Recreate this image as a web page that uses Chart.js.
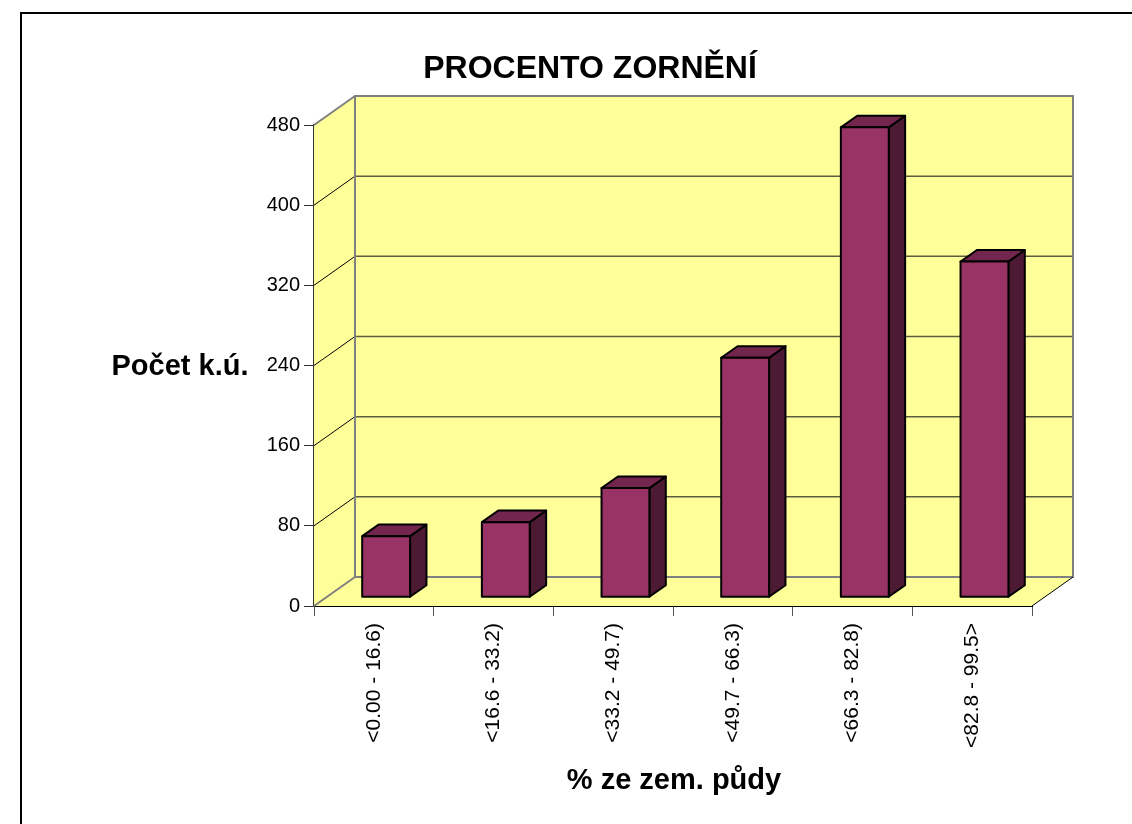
<!DOCTYPE html>
<html>
<head>
<meta charset="utf-8">
<script src="https://cdn.jsdelivr.net/npm/chart.js@4"></script>
<style>
  html, body { margin: 0; padding: 0; background: #fff; }
  canvas { display: block; }
</style>
</head>
<body>
<canvas id="grafica" width="1132" height="824"></canvas>
<script>
const labels = ['<0.00 - 16.6)', '<16.6 - 33.2)', '<33.2 - 49.7)', '<49.7 - 66.3)', '<66.3 - 82.8)', '<82.8 - 99.5>'];
const counts = [61, 75, 109, 239, 469, 335];
const yMax = 480;
const yStep = 80;

const title = 'PROCENTO ZORNĚNÍ';
const yTitle = 'Počet k.ú.';
const xTitle = '% ze zem. půdy';

// depth of the 3D box, and where the bars sit inside it
const DX = 41, DY = -29;
const F1 = 0.3, F2 = 0.7;
const FONT = '"Liberation Sans", Arial, sans-serif';

const box3d = {
	id: 'box3d',
	beforeDatasetsDraw(chart) {
		const ctx = chart.ctx;
		const a = chart.chartArea;
		const ys = chart.scales.y;
		const y0 = ys.getPixelForValue(0);
		const yT = ys.getPixelForValue(yMax);
		ctx.save();
		ctx.fillStyle = '#FFFF99';
		// back wall
		ctx.fillRect(a.left + DX, yT + DY, a.right - a.left, y0 - yT);
		// left wall
		ctx.beginPath();
		ctx.moveTo(a.left, yT); ctx.lineTo(a.left + DX, yT + DY);
		ctx.lineTo(a.left + DX, y0 + DY); ctx.lineTo(a.left, y0);
		ctx.closePath(); ctx.fill();
		// floor
		ctx.beginPath();
		ctx.moveTo(a.left, y0); ctx.lineTo(a.right, y0);
		ctx.lineTo(a.right + DX, y0 + DY); ctx.lineTo(a.left + DX, y0 + DY);
		ctx.closePath(); ctx.fill();

		// grid lines
		for (let v = yStep; v < yMax; v += yStep) {
			const py = ys.getPixelForValue(v);
			ctx.strokeStyle = '#5c5c40';
			ctx.lineWidth = 1.5;
			ctx.beginPath();
			ctx.moveTo(a.left + DX, py + DY); ctx.lineTo(a.right + DX, py + DY);
			ctx.stroke();
			ctx.strokeStyle = '#000';
			ctx.lineWidth = 1;
			ctx.beginPath();
			ctx.moveTo(a.left, py); ctx.lineTo(a.left + DX, py + DY);
			ctx.stroke();
		}
		// wall edges
		ctx.strokeStyle = '#808080';
		ctx.lineWidth = 2;
		ctx.strokeRect(a.left + DX, yT + DY, a.right - a.left, y0 - yT);
		ctx.beginPath();
		ctx.moveTo(a.left, yT); ctx.lineTo(a.left + DX, yT + DY);
		ctx.moveTo(a.left, y0); ctx.lineTo(a.left + DX, y0 + DY);
		ctx.stroke();
		ctx.strokeStyle = '#000';
		ctx.lineWidth = 1;
		ctx.beginPath();
		ctx.moveTo(a.right, y0); ctx.lineTo(a.right + DX, y0 + DY);
		ctx.stroke();
		ctx.restore();
	},
	afterDatasetsDraw(chart) {
		const ctx = chart.ctx;
		const meta = chart.getDatasetMeta(0);
		const bx = (F2 - F1) * DX, by = (F2 - F1) * DY;
		ctx.save();
		ctx.lineWidth = 2;
		ctx.strokeStyle = '#000';
		ctx.lineJoin = 'round';
		meta.data.forEach(bar => {
			const p = bar.getProps(['x', 'y', 'base', 'width'], true);
			const x0 = p.x - p.width / 2 + F1 * DX;
			const x1 = p.x + p.width / 2 + F1 * DX;
			const yt = p.y + F1 * DY;
			const yb = p.base + F1 * DY;
			// side
			ctx.fillStyle = '#4D1A33';
			ctx.beginPath();
			ctx.moveTo(x1, yt); ctx.lineTo(x1 + bx, yt + by);
			ctx.lineTo(x1 + bx, yb + by); ctx.lineTo(x1, yb);
			ctx.closePath(); ctx.fill(); ctx.stroke();
			// top
			ctx.fillStyle = '#73264D';
			ctx.beginPath();
			ctx.moveTo(x0, yt); ctx.lineTo(x1, yt);
			ctx.lineTo(x1 + bx, yt + by); ctx.lineTo(x0 + bx, yt + by);
			ctx.closePath(); ctx.fill(); ctx.stroke();
			// front
			ctx.fillStyle = '#993366';
			ctx.fillRect(x0, yt, x1 - x0, yb - yt);
			ctx.strokeRect(x0, yt, x1 - x0, yb - yt);
		});
		ctx.restore();
	},
	afterDraw(chart) {
		const ctx = chart.ctx;
		ctx.save();
		// outer frame
		ctx.strokeStyle = '#000';
		ctx.lineWidth = 2;
		ctx.strokeRect(21, 13, 1200, 900);
		ctx.fillStyle = '#000';
		ctx.textBaseline = 'alphabetic';
		ctx.textAlign = 'center';
		ctx.font = 'bold 32px ' + FONT;
		ctx.fillText(title, 590, 78);
		ctx.font = 'bold 29px ' + FONT;
		ctx.fillText(yTitle, 180, 375);
		ctx.fillText(xTitle, 674, 789);
		ctx.restore();
	}
};

const graph = document.querySelector('#grafica');

const data = {
	labels: labels,
	datasets: [{
		data: counts,
		backgroundColor: 'rgba(0,0,0,0)',
		borderWidth: 0,
		barPercentage: 0.4,
		categoryPercentage: 1.0
	}]
};

const config = {
	type: 'bar',
	data: data,
	options: {
		responsive: false,
		animation: false,
		layout: { padding: { top: 125, right: 100, left: 0, bottom: 0 } },
		plugins: {
			legend: { display: false },
			title: { display: false },
			tooltip: { enabled: false }
		},
		scales: {
			x: {
				afterFit: s => { s.height = 218; },
				grid: { drawOnChartArea: false, drawTicks: true, tickLength: 10, color: '#555', offset: true },
				border: { display: true, color: '#000', width: 1 },
				ticks: { minRotation: 90, maxRotation: 90, padding: 7, color: '#000', font: { family: FONT, size: 21 } }
			},
			y: {
				min: 0,
				max: yMax,
				afterFit: s => { s.width = 314; },
				grid: { drawOnChartArea: false, drawTicks: true, tickLength: 10, color: '#333' },
				border: { display: true, color: '#333', width: 2 },
				ticks: { stepSize: yStep, padding: 4, color: '#000', font: { family: FONT, size: 20 } }
			}
		}
	},
	plugins: [box3d]
};
new Chart(graph, config);
</script>
</body>
</html>
